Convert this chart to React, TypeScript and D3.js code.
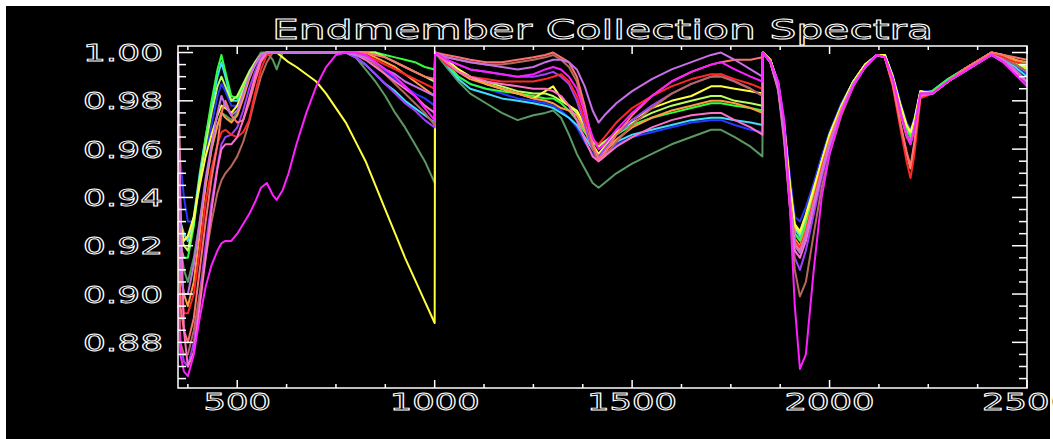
import React from 'react';
import * as d3 from 'd3';

const W = 1053;
const H = 439;
const title = 'Endmember Collection Spectra';
const xDomain = [350, 2500];
const yDomain = [0.8611, 1.0027];
const xTickValues = [500, 1000, 1500, 2000, 2500];
const yTickValues = [0.88, 0.9, 0.92, 0.94, 0.96, 0.98, 1.0];

const wavelengths = [
  350, 356, 365, 375, 390, 405, 420, 435, 450, 460, 470, 485, 500, 515, 530, 545, 560, 575, 590, 600, 615, 630, 650, 675, 700, 725, 750, 775, 800, 825, 850, 875, 900, 925, 950, 975, 1000,
  1001, 1030, 1060, 1090, 1130, 1170, 1210, 1250, 1280, 1300, 1320, 1340, 1360, 1380, 1400, 1415, 1430, 1460, 1500, 1550, 1600, 1650, 1700, 1725, 1760, 1800, 1830,
  1831, 1850, 1870, 1885, 1900, 1912, 1925, 1940, 1960, 1980, 2000, 2030, 2060, 2090, 2120, 2140, 2160, 2180, 2195, 2205, 2215, 2230, 2260, 2300, 2340, 2380, 2410, 2440, 2470, 2500,
];

const darkGreen = [
  0.97, 0.92, 0.91, 0.905, 0.915, 0.93, 0.945, 0.96, 0.97, 0.975, 0.974, 0.972, 0.975, 0.982, 0.99, 0.996, 1.0, 1.0, 0.997, 0.993, 1.0, 1.0, 1.0, 1.0, 1.0, 1.0, 1.0, 1.0, 0.998, 0.993, 0.988, 0.982, 0.975, 0.969, 0.962, 0.955, 0.946,
  1.0, 0.994, 0.988, 0.983, 0.979, 0.975, 0.972, 0.974, 0.975, 0.976, 0.973, 0.966, 0.958, 0.952, 0.946, 0.944, 0.946, 0.95, 0.954, 0.958, 0.962, 0.965, 0.968, 0.968, 0.965, 0.961, 0.957,
  1.0, 0.997, 0.986, 0.967, 0.94, 0.925, 0.923, 0.93, 0.942, 0.954, 0.965, 0.978, 0.988, 0.995, 0.999, 0.999, 0.99, 0.978, 0.97, 0.967, 0.972, 0.984, 0.983, 0.988, 0.993, 0.997, 1.0, 0.998, 0.995, 0.992,
];
const blue = [
  0.96, 0.955, 0.94, 0.93, 0.93, 0.945, 0.958, 0.97, 0.982, 0.987, 0.984, 0.978, 0.978, 0.984, 0.99, 0.995, 0.999, 1.0, 1.0, 1.0, 1.0, 1.0, 1.0, 1.0, 1.0, 1.0, 1.0, 1.0, 1.0, 0.998, 0.995, 0.992, 0.989, 0.986, 0.983, 0.981, 0.978,
  1.0, 0.995, 0.99, 0.987, 0.985, 0.983, 0.981, 0.98, 0.979, 0.978, 0.976, 0.973, 0.969, 0.963, 0.958, 0.956, 0.958, 0.962, 0.965, 0.967, 0.969, 0.971, 0.972, 0.972, 0.97, 0.968, 0.967,
  1.0, 0.997, 0.988, 0.972, 0.948, 0.932, 0.93, 0.936, 0.946, 0.957, 0.967, 0.979, 0.988, 0.995, 0.999, 0.999, 0.991, 0.979, 0.971, 0.968, 0.973, 0.984, 0.984, 0.989, 0.993, 0.997, 0.999, 0.998, 0.995, 0.991,
];
const cyan = [
  0.94, 0.93, 0.925, 0.922, 0.932, 0.95, 0.965, 0.978, 0.99, 0.996, 0.99, 0.98, 0.98, 0.986, 0.991, 0.995, 0.999, 1.0, 1.0, 1.0, 1.0, 1.0, 1.0, 1.0, 1.0, 1.0, 1.0, 1.0, 0.998, 0.995, 0.991, 0.987, 0.984, 0.98, 0.977, 0.974, 0.971,
  1.0, 0.995, 0.989, 0.985, 0.983, 0.981, 0.98, 0.979, 0.978, 0.977, 0.975, 0.973, 0.97, 0.965, 0.96, 0.958, 0.96, 0.963, 0.966, 0.968, 0.97, 0.972, 0.973, 0.973, 0.972, 0.971, 0.97,
  1.0, 0.997, 0.987, 0.969, 0.943, 0.927, 0.924, 0.931, 0.943, 0.955, 0.966, 0.978, 0.988, 0.995, 0.999, 0.999, 0.99, 0.977, 0.969, 0.966, 0.971, 0.983, 0.984, 0.989, 0.993, 0.997, 1.0, 0.997, 0.994, 0.99,
];
const green = [
  0.93, 0.92, 0.915, 0.915, 0.928, 0.948, 0.965, 0.98, 0.993, 0.999, 0.992, 0.982, 0.981, 0.986, 0.991, 0.995, 0.999, 1.0, 1.0, 1.0, 1.0, 1.0, 1.0, 1.0, 1.0, 1.0, 1.0, 1.0, 1.0, 1.0, 1.0, 0.999, 0.998, 0.997, 0.996, 0.994, 0.993,
  1.0, 0.996, 0.99, 0.987, 0.985, 0.984, 0.983, 0.982, 0.981, 0.981, 0.979, 0.976, 0.972, 0.967, 0.963, 0.962, 0.963, 0.966, 0.97, 0.973, 0.975, 0.977, 0.979, 0.979, 0.978, 0.977, 0.976,
  1.0, 0.997, 0.986, 0.968, 0.941, 0.925, 0.922, 0.929, 0.941, 0.953, 0.964, 0.977, 0.987, 0.994, 0.999, 0.999, 0.99, 0.977, 0.968, 0.965, 0.97, 0.983, 0.984, 0.989, 0.993, 0.997, 1.0, 0.999, 0.997, 0.995,
];
const lime = [
  0.93, 0.925, 0.92, 0.918, 0.93, 0.948, 0.962, 0.975, 0.986, 0.99, 0.986, 0.98, 0.982, 0.987, 0.992, 0.996, 0.999, 1.0, 1.0, 1.0, 1.0, 1.0, 1.0, 1.0, 1.0, 1.0, 1.0, 1.0, 1.0, 1.0, 1.0, 0.998, 0.996, 0.994, 0.992, 0.99, 0.988,
  1.0, 0.997, 0.993, 0.99, 0.988, 0.986, 0.984, 0.983, 0.983, 0.982, 0.98, 0.978, 0.975, 0.969, 0.963, 0.961, 0.963, 0.967, 0.971, 0.975, 0.978, 0.98, 0.982, 0.982, 0.98, 0.979, 0.978,
  1.0, 0.997, 0.987, 0.97, 0.944, 0.928, 0.925, 0.932, 0.943, 0.955, 0.966, 0.978, 0.988, 0.995, 0.999, 0.999, 0.99, 0.978, 0.97, 0.967, 0.972, 0.984, 0.983, 0.988, 0.993, 0.997, 1.0, 0.998, 0.996, 0.993,
];
const yellow = [
  1.0, 0.93, 0.922, 0.924, 0.932, 0.945, 0.957, 0.966, 0.974, 0.978, 0.977, 0.975, 0.978, 0.984, 0.99, 0.995, 0.999, 1.0, 1.0, 1.0, 0.998, 0.996, 0.994, 0.991, 0.988, 0.983, 0.977, 0.971, 0.963, 0.955, 0.945, 0.935, 0.925, 0.915, 0.906, 0.897, 0.888,
  1.0, 0.997, 0.993, 0.99, 0.987, 0.985, 0.983, 0.981, 0.984, 0.986, 0.981, 0.978, 0.976, 0.97, 0.962, 0.958, 0.961, 0.967, 0.972, 0.977, 0.98, 0.982, 0.986, 0.986, 0.985, 0.984, 0.983,
  1.0, 0.997, 0.987, 0.97, 0.945, 0.929, 0.926, 0.933, 0.944, 0.955, 0.966, 0.978, 0.988, 0.995, 0.999, 0.999, 0.99, 0.978, 0.97, 0.967, 0.972, 0.984, 0.983, 0.988, 0.993, 0.997, 1.0, 0.998, 0.996, 0.994,
];
const orange = [
  1.0, 0.91, 0.9, 0.895, 0.905, 0.925, 0.945, 0.96, 0.97, 0.975, 0.973, 0.971, 0.974, 0.981, 0.989, 0.995, 0.999, 1.0, 1.0, 1.0, 1.0, 1.0, 1.0, 1.0, 1.0, 1.0, 1.0, 1.0, 1.0, 1.0, 0.998, 0.996, 0.994, 0.991, 0.988, 0.985, 0.982,
  1.0, 0.996, 0.992, 0.989, 0.987, 0.985, 0.983, 0.981, 0.98, 0.979, 0.977, 0.976, 0.974, 0.968, 0.96, 0.957, 0.959, 0.964, 0.969, 0.973, 0.976, 0.978, 0.98, 0.98, 0.979, 0.977, 0.975,
  1.0, 0.997, 0.986, 0.967, 0.94, 0.923, 0.92, 0.927, 0.94, 0.953, 0.964, 0.977, 0.987, 0.994, 0.999, 0.998, 0.987, 0.97, 0.958, 0.952, 0.962, 0.982, 0.983, 0.988, 0.993, 0.997, 1.0, 0.999, 0.997, 0.996,
];
const purple = [
  0.9, 0.88, 0.872, 0.87, 0.88, 0.9, 0.92, 0.938, 0.953, 0.962, 0.965, 0.966, 0.969, 0.976, 0.985, 0.992, 0.998, 1.0, 1.0, 1.0, 1.0, 1.0, 1.0, 1.0, 1.0, 1.0, 1.0, 1.0, 0.998, 0.995, 0.991, 0.987, 0.983, 0.979, 0.976, 0.972, 0.969,
  1.0, 0.997, 0.995, 0.993, 0.992, 0.991, 0.99, 0.99, 0.991, 0.992, 0.99, 0.987, 0.98, 0.97, 0.96, 0.957, 0.96, 0.966, 0.972, 0.978, 0.983, 0.987, 0.99, 0.991, 0.988, 0.985, 0.982,
  1.0, 0.996, 0.985, 0.965, 0.935, 0.915, 0.91, 0.918, 0.933, 0.948, 0.961, 0.975, 0.986, 0.994, 0.999, 0.998, 0.989, 0.975, 0.966, 0.963, 0.969, 0.983, 0.983, 0.988, 0.992, 0.996, 0.999, 0.996, 0.992, 0.987,
];
const brown = [
  0.93, 0.88, 0.875, 0.875, 0.885, 0.9, 0.915, 0.93, 0.942, 0.947, 0.95, 0.953, 0.957, 0.963, 0.971, 0.981, 0.99, 0.996, 1.0, 1.0, 1.0, 1.0, 1.0, 1.0, 1.0, 1.0, 1.0, 1.0, 1.0, 0.998, 0.995, 0.991, 0.987, 0.983, 0.979, 0.975, 0.97,
  1.0, 0.998, 0.997, 0.996, 0.995, 0.995, 0.996, 0.997, 0.998, 0.999, 0.997, 0.994, 0.988, 0.975, 0.96, 0.955, 0.957, 0.963, 0.97, 0.977, 0.983, 0.987, 0.99, 0.99, 0.988, 0.985, 0.982,
  1.0, 0.996, 0.984, 0.963, 0.935, 0.91, 0.899, 0.905, 0.925, 0.944, 0.958, 0.974, 0.986, 0.994, 0.999, 0.998, 0.988, 0.974, 0.965, 0.962, 0.968, 0.982, 0.983, 0.988, 0.993, 0.997, 1.0, 0.998, 0.995, 0.992,
];
const red = [
  0.95, 0.9, 0.892, 0.892, 0.9, 0.918, 0.938, 0.952, 0.962, 0.967, 0.968, 0.966, 0.965, 0.967, 0.972, 0.983, 0.993, 0.999, 1.0, 1.0, 1.0, 1.0, 1.0, 1.0, 1.0, 1.0, 1.0, 1.0, 1.0, 0.999, 0.997, 0.995, 0.993, 0.991, 0.989, 0.987, 0.985,
  1.0, 0.995, 0.992, 0.99, 0.989, 0.988, 0.988, 0.988, 0.989, 0.99, 0.991, 0.988, 0.982, 0.972, 0.964, 0.962, 0.965, 0.971, 0.977, 0.982, 0.986, 0.989, 0.991, 0.991, 0.989, 0.987, 0.985,
  1.0, 0.996, 0.985, 0.966, 0.938, 0.922, 0.919, 0.926, 0.939, 0.952, 0.963, 0.976, 0.987, 0.994, 0.999, 0.998, 0.986, 0.968, 0.955, 0.948, 0.958, 0.981, 0.983, 0.988, 0.993, 0.997, 1.0, 0.998, 0.996, 0.995,
];
const salmon = [
  0.95, 0.895, 0.885, 0.88, 0.89, 0.91, 0.93, 0.948, 0.962, 0.975, 0.98, 0.974, 0.971, 0.972, 0.979, 0.988, 0.996, 1.0, 1.0, 1.0, 1.0, 1.0, 1.0, 1.0, 1.0, 1.0, 1.0, 1.0, 1.0, 1.0, 0.999, 0.998, 0.996, 0.994, 0.992, 0.99, 0.989,
  1.0, 0.999, 0.998, 0.997, 0.996, 0.996, 0.997, 0.998, 0.999, 1.0, 0.998, 0.996, 0.99, 0.978, 0.962, 0.956, 0.958, 0.966, 0.974, 0.982, 0.988, 0.992, 0.995, 0.996, 0.997, 0.997, 0.998,
  1.0, 0.996, 0.985, 0.966, 0.938, 0.921, 0.918, 0.925, 0.938, 0.951, 0.963, 0.976, 0.987, 0.994, 0.999, 0.998, 0.987, 0.97, 0.959, 0.953, 0.963, 0.982, 0.983, 0.988, 0.993, 0.997, 1.0, 0.999, 0.998, 0.997,
];
const pink = [
  1.0, 0.94, 0.885, 0.87, 0.876, 0.895, 0.915, 0.935, 0.952, 0.96, 0.962, 0.962, 0.965, 0.972, 0.981, 0.99, 0.997, 1.0, 1.0, 1.0, 1.0, 1.0, 1.0, 1.0, 1.0, 1.0, 1.0, 1.0, 0.999, 0.997, 0.994, 0.991, 0.988, 0.985, 0.982, 0.978, 0.975,
  1.0, 0.996, 0.992, 0.99, 0.988, 0.987, 0.986, 0.985, 0.985, 0.984, 0.982, 0.978, 0.972, 0.964, 0.957, 0.955, 0.957, 0.961, 0.965, 0.969, 0.972, 0.974, 0.975, 0.975, 0.972, 0.969, 0.966,
  1.0, 0.996, 0.985, 0.965, 0.936, 0.918, 0.915, 0.922, 0.936, 0.95, 0.962, 0.976, 0.987, 0.994, 0.999, 0.998, 0.989, 0.975, 0.966, 0.963, 0.969, 0.983, 0.983, 0.988, 0.992, 0.996, 0.999, 0.996, 0.992, 0.988,
];
const violet = [
  1.0, 0.91, 0.9, 0.9, 0.912, 0.93, 0.948, 0.962, 0.975, 0.982, 0.978, 0.974, 0.976, 0.983, 0.99, 0.995, 0.999, 1.0, 1.0, 1.0, 1.0, 1.0, 1.0, 1.0, 1.0, 1.0, 1.0, 1.0, 0.999, 0.998, 0.996, 0.993, 0.991, 0.988, 0.986, 0.984, 0.982,
  1.0, 0.998, 0.997, 0.996, 0.995, 0.994, 0.993, 0.994, 0.996, 0.997, 0.997, 0.996, 0.993, 0.986, 0.976, 0.971, 0.974, 0.979, 0.984, 0.989, 0.993, 0.996, 0.999, 1.0, 0.997, 0.993, 0.99,
  1.0, 0.996, 0.985, 0.966, 0.938, 0.92, 0.917, 0.924, 0.937, 0.95, 0.962, 0.976, 0.987, 0.994, 0.999, 0.998, 0.989, 0.975, 0.966, 0.963, 0.969, 0.983, 0.983, 0.988, 0.992, 0.996, 0.999, 0.997, 0.993, 0.988,
];
const magenta = [
  0.9, 0.875, 0.868, 0.866, 0.875, 0.89, 0.903, 0.912, 0.918, 0.921, 0.922, 0.922, 0.925, 0.929, 0.933, 0.938, 0.944, 0.946, 0.941, 0.939, 0.943, 0.95, 0.962, 0.975, 0.986, 0.994, 0.999, 1.0, 1.0, 0.999, 0.996, 0.993, 0.99, 0.986, 0.982, 0.977, 0.972,
  1.0, 0.997, 0.995, 0.993, 0.992, 0.991, 0.99, 0.991, 0.993, 0.994, 0.993, 0.99, 0.985, 0.975, 0.965, 0.96, 0.962, 0.968, 0.975, 0.982, 0.988, 0.992, 0.995, 0.996, 0.993, 0.99, 0.988,
  1.0, 0.996, 0.988, 0.972, 0.935, 0.895, 0.869, 0.875, 0.91, 0.94, 0.958, 0.975, 0.986, 0.994, 0.999, 0.998, 0.989, 0.975, 0.966, 0.962, 0.968, 0.983, 0.983, 0.988, 0.992, 0.996, 0.999, 0.996, 0.991, 0.986,
];

const seriesNames = ['darkGreen', 'blue', 'cyan', 'green', 'lime', 'yellow', 'orange', 'purple', 'brown', 'red', 'salmon', 'pink', 'violet', 'magenta'];
const seriesValues = [darkGreen, blue, cyan, green, lime, yellow, orange, purple, brown, red, salmon, pink, violet, magenta];
const seriesColors = ['#5a9a62', '#2838ff', '#40dcff', '#30ff40', '#b8ff60', '#ffff40', '#ff9a40', '#a040ff', '#b86858', '#ff2828', '#ff7070', '#ff70c8', '#c870e8', '#ff20ff'];

const PL = 178, PR = 1027, PT = 46, PB = 388;

const textStyle: React.CSSProperties = {
  fontFamily: 'DejaVu Sans, sans-serif',
  fontWeight: 'normal',
};

export default function App() {
  const x = d3.scaleLinear().domain(xDomain).range([PL, PR]);
  const y = d3.scaleLinear().domain(yDomain).range([PB, PT]);
  const line = d3
    .line<[number, number]>()
    .x((d) => x(d[0]))
    .y((d) => y(d[1]));

  const xMinor = d3.range(375, 2500, 125).filter((v) => v % 500 !== 0);
  const yMinor = d3.range(0, 30).map((i) => +(0.865 + i * 0.005).toFixed(3)).filter((v) => v <= 1.0 && Math.round(v * 1000) % 20 !== 0);

  return (
    <svg width={W} height={H} style={{ position: 'absolute', left: 0, top: 0, display: 'block' }}>
      <rect x={0} y={0} width={W} height={H} fill="#ffffff" />
      <rect x={6} y={6} width={1044} height={433} fill="#000000" />
      <g>
        {seriesValues.map((vals, i) => {
          const pts: [number, number][] = wavelengths
            .map((w, j) => [w, vals[j]] as [number, number])
            .filter((p) => p[1] !== undefined);
          return (
            <path
              key={seriesNames[i]}
              d={line(pts) || ''}
              fill="none"
              stroke={seriesColors[i]}
              strokeWidth={2}
              strokeLinejoin="round"
            />
          );
        })}
      </g>
      <rect x={PL} y={PT} width={PR - PL} height={PB - PT} fill="none" stroke="#ffffff" strokeWidth={1.5} />
      {xTickValues.map((t) => (
        <g key={'xt' + t}>
          <line x1={x(t)} x2={x(t)} y1={PB} y2={PB - 8} stroke="#fff" strokeWidth={1.5} />
          <line x1={x(t)} x2={x(t)} y1={PT} y2={PT + 8} stroke="#fff" strokeWidth={1.5} />
        </g>
      ))}
      {xMinor.map((t) => (
        <g key={'xm' + t}>
          <line x1={x(t)} x2={x(t)} y1={PB} y2={PB - 4} stroke="#fff" strokeWidth={1.5} />
          <line x1={x(t)} x2={x(t)} y1={PT} y2={PT + 4} stroke="#fff" strokeWidth={1.5} />
        </g>
      ))}
      {yTickValues.map((t) => (
        <g key={'yt' + t}>
          <line x1={PL} x2={PL + 15} y1={y(t)} y2={y(t)} stroke="#fff" strokeWidth={1.5} />
          <line x1={PR} x2={PR - 15} y1={y(t)} y2={y(t)} stroke="#fff" strokeWidth={1.5} />
        </g>
      ))}
      {yMinor.map((t) => (
        <g key={'ym' + t}>
          <line x1={PL} x2={PL + 8} y1={y(t)} y2={y(t)} stroke="#fff" strokeWidth={1.5} />
          <line x1={PR} x2={PR - 8} y1={y(t)} y2={y(t)} stroke="#fff" strokeWidth={1.5} />
        </g>
      ))}
      {yTickValues.map((t) => (
        <text
          key={'yl' + t}
          x={163}
          y={y(t) + 8.5}
          textAnchor="end"
          fontSize={23}
          textLength={80}
          lengthAdjust="spacingAndGlyphs"
          fill="#000"
          stroke="#fff"
          strokeWidth={0.9}
          style={textStyle}
        >
          {t.toFixed(2)}
        </text>
      ))}
      {xTickValues.map((t) => {
        const label = String(t);
        const len = label.length * 22.5;
        return (
          <text
            key={'xl' + t}
            x={x(t) - len / 2}
            y={410}
            fontSize={23}
            textLength={len}
            lengthAdjust="spacingAndGlyphs"
            fill="#000"
            stroke="#fff"
            strokeWidth={0.9}
            style={textStyle}
          >
            {label}
          </text>
        );
      })}
      <text
        x={272}
        y={39}
        fontSize={27}
        textLength={661}
        lengthAdjust="spacingAndGlyphs"
        fill="#000"
        stroke="#fff"
        strokeWidth={0.9}
        style={textStyle}
      >
        {title}
      </text>
    </svg>
  );
}
